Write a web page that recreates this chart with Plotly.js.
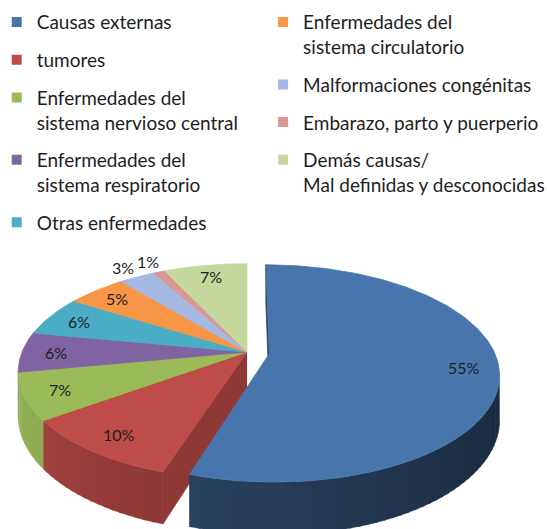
<!DOCTYPE html>
<html><head><meta charset="utf-8">
<script src="https://cdn.plot.ly/plotly-3.0.1.min.js"></script>
<style>html,body{margin:0;padding:0;background:#fff}</style>
</head><body><div id="chart" style="width:547px;height:529px"></div>
<script>
// ---- data ----
const categories = ['Causas externas','tumores','Enfermedades del sistema nervioso central','Enfermedades del sistema respiratorio','Otras enfermedades','Enfermedades del sistema circulatorio','Malformaciones congénitas','Embarazo, parto y puerperio','Demás causas/ Mal definidas y desconocidas'];
const legendNames = ['Causas externas','tumores','Enfermedades del<br>sistema nervioso central','Enfermedades del<br>sistema respiratorio','Otras enfermedades','Enfermedades del<br>sistema circulatorio','Malformaciones congénitas','Embarazo, parto y puerperio','Demás causas/<br>Mal definidas y desconocidas'];
const values = [55,10,7,6,6,5,3,1,7];
const explodedIndex = 0;
const leftColumn = [0,1,2,3,4];
const rightColumn = [5,6,7,8];

// ---- styles ----
const topColors = [[72,118,172],[190,76,73],[155,187,89],[128,100,162],[75,172,198],[247,150,70],[165,186,226],[217,152,150],[196,215,157]];
const wallK = [0.56,0.74,0.8,0.75,0.75,0.75,0.8,0.8,0.8];
const cx=247, cy=352, rx=225, ry=104.4, p=0.182, H=43, E=0.1;

const rad = d => d*Math.PI/180;
const rgb = (c,k) => 'rgb('+c.map(v=>Math.max(0,Math.min(255,Math.round(v*k)))).join(',')+')';
function proj(u,v,z){ const s=1/(1+p*v); return [cx+rx*u*s, cy-ry*v*s+z*H*s]; }

const total = values.reduce((a,b)=>a+b,0);
let acc=0;
const slices = values.map((val,i)=>{
  const a=acc*360/total; acc+=val; const b=acc*360/total;
  const mid=(a+b)/2; const ex = i===explodedIndex;
  const ou = ex? E*Math.sin(rad(mid)) : 0, ov = ex? E*Math.cos(rad(mid)) : 0;
  return {i,a,b,mid,ex,ou,ov,val};
});
function pt(s,th,r,z){ return proj(r*Math.sin(rad(th))+s.ou, r*Math.cos(rad(th))+s.ov, z); }
function poly(points,color,lw){
  return {type:'scatter',mode:'lines',x:points.map(q=>q[0]),y:points.map(q=>q[1]),fill:'toself',fillcolor:color,
    line:{color:color,width:lw===undefined?0.8:lw},hoverinfo:'skip',showlegend:false};
}
function camDot(ax,av,nu,nv){ return (0-ax)*nu + (-1/p-av)*nv; }

function sliceTraces(s, group){
  const out=[];
  const n=Math.max(1,Math.ceil((s.b-s.a)*2)); const st=(s.b-s.a)/n;
  // visible sub-steps
  const vis=[];
  for(let k=0;k<n;k++){
    const th=s.a+(k+0.5)*st;
    const u=Math.sin(rad(th))+s.ou, v=Math.cos(rad(th))+s.ov;
    vis.push(camDot(u,v,Math.sin(rad(th)),Math.cos(rad(th)))>0);
  }
  let k=0;
  while(k<n){
    if(!vis[k]){k++;continue;}
    let e=k; while(e<n && vis[e]) e++;   // run [k,e)
    for(let c=k;c<e;c+=4){
      const c1=Math.min(e,c+4), c2=Math.min(e,c1+1);  // overlap one sub-step
      const topArc=[], botArc=[];
      for(let j=c;j<=c2;j++){ const th=s.a+j*st; topArc.push(pt(s,th,1,0)); botArc.push(pt(s,th,1,1)); }
      const tm=s.a+(c+c1)/2*st;
      const f = 1-0.35*(Math.sin(rad(tm))+0.31)/1.3;
      out.push(poly(topArc.concat(botArc.reverse()), rgb(topColors[s.i], wallK[s.i]*f), 0.3));
    }
    k=e;
  }
  // radial faces on the group boundary
  const faces=[];
  if(group.first===s.i) faces.push([s.a, s.a-90]);
  if(group.last===s.i) faces.push([s.b, s.b+90]);
  faces.forEach(([th,nd])=>{
    if(camDot(s.ou,s.ov,Math.sin(rad(nd)),Math.cos(rad(nd)))>1e-3){
      const ap0=proj(s.ou,s.ov,0), ap1=proj(s.ou,s.ov,1);
      out.push(poly([ap0,pt(s,th,1,0),pt(s,th,1,1),ap1], rgb(topColors[s.i], wallK[s.i]*1.02)));
    }
  });
  return out;
}
function topTrace(s){
  const pts=[proj(s.ou,s.ov,0)];
  const n=Math.max(2,Math.ceil((s.b-s.a)/1));
  for(let k=0;k<=n;k++) pts.push(pt(s,s.a+(s.b-s.a)*k/n,1,0));
  pts.push(proj(s.ou,s.ov,0));
  return poly(pts, rgb(topColors[s.i],1));
}

const traces=[];
const rest = slices.filter(s=>!s.ex);
const restGroup = {first: rest[0].i, last: rest[rest.length-1].i};
rest.forEach(s=>traces.push(...sliceTraces(s,restGroup)));
rest.forEach(s=>traces.push(topTrace(s)));
slices.filter(s=>s.ex).forEach(s=>{ traces.push(...sliceTraces(s,{first:s.i,last:s.i})); traces.push(topTrace(s)); });

// legend entries
function legendEntry(i,legendId){
  return {type:'scatter',mode:'markers',x:[null],y:[null],name:legendNames[i],legend:legendId,legendgroup:'g'+i,
    marker:{symbol:'square',size:10,color:rgb(topColors[i],1)},hoverinfo:'skip'};
}
leftColumn.forEach(i=>traces.push(legendEntry(i,'legend')));
rightColumn.forEach(i=>traces.push(legendEntry(i,'legend2')));

// percentage labels
const annotations = slices.map(s=>{
  const r = s.val<4 ? 1.15 : 0.85;
  const q = pt(s,s.mid,r,0);
  return {x:q[0],y:q[1],xref:'x',yref:'y',text:Math.round(s.val/total*100)+'%',showarrow:false,
    font:{family:'Lato, sans-serif',size:16,color:'#1e1e1e'}};
});

const legendFont = {family:'Lato, sans-serif',size:19,color:'#1e1e1e'};
const layout = {
  width:547,height:529,margin:{l:0,r:0,t:0,b:0,autoexpand:false},
  paper_bgcolor:'#ffffff',plot_bgcolor:'#ffffff',
  xaxis:{range:[0,547],visible:false,fixedrange:true},
  yaxis:{range:[529,0],visible:false,fixedrange:true},
  showlegend:true,
  legend:{x:-0.006,y:0.994,xanchor:'left',yanchor:'top',orientation:'v',valign:'top',traceorder:'grouped',tracegroupgap:10,font:legendFont,bgcolor:'rgba(0,0,0,0)'},
  legend2:{x:0.481,y:0.994,xanchor:'left',yanchor:'top',orientation:'v',valign:'top',traceorder:'grouped',tracegroupgap:10,font:legendFont,bgcolor:'rgba(0,0,0,0)'},
  annotations:annotations,
  hovermode:false
};
Plotly.newPlot('chart',traces,layout,{displayModeBar:false,staticPlot:true});
</script></body></html>
